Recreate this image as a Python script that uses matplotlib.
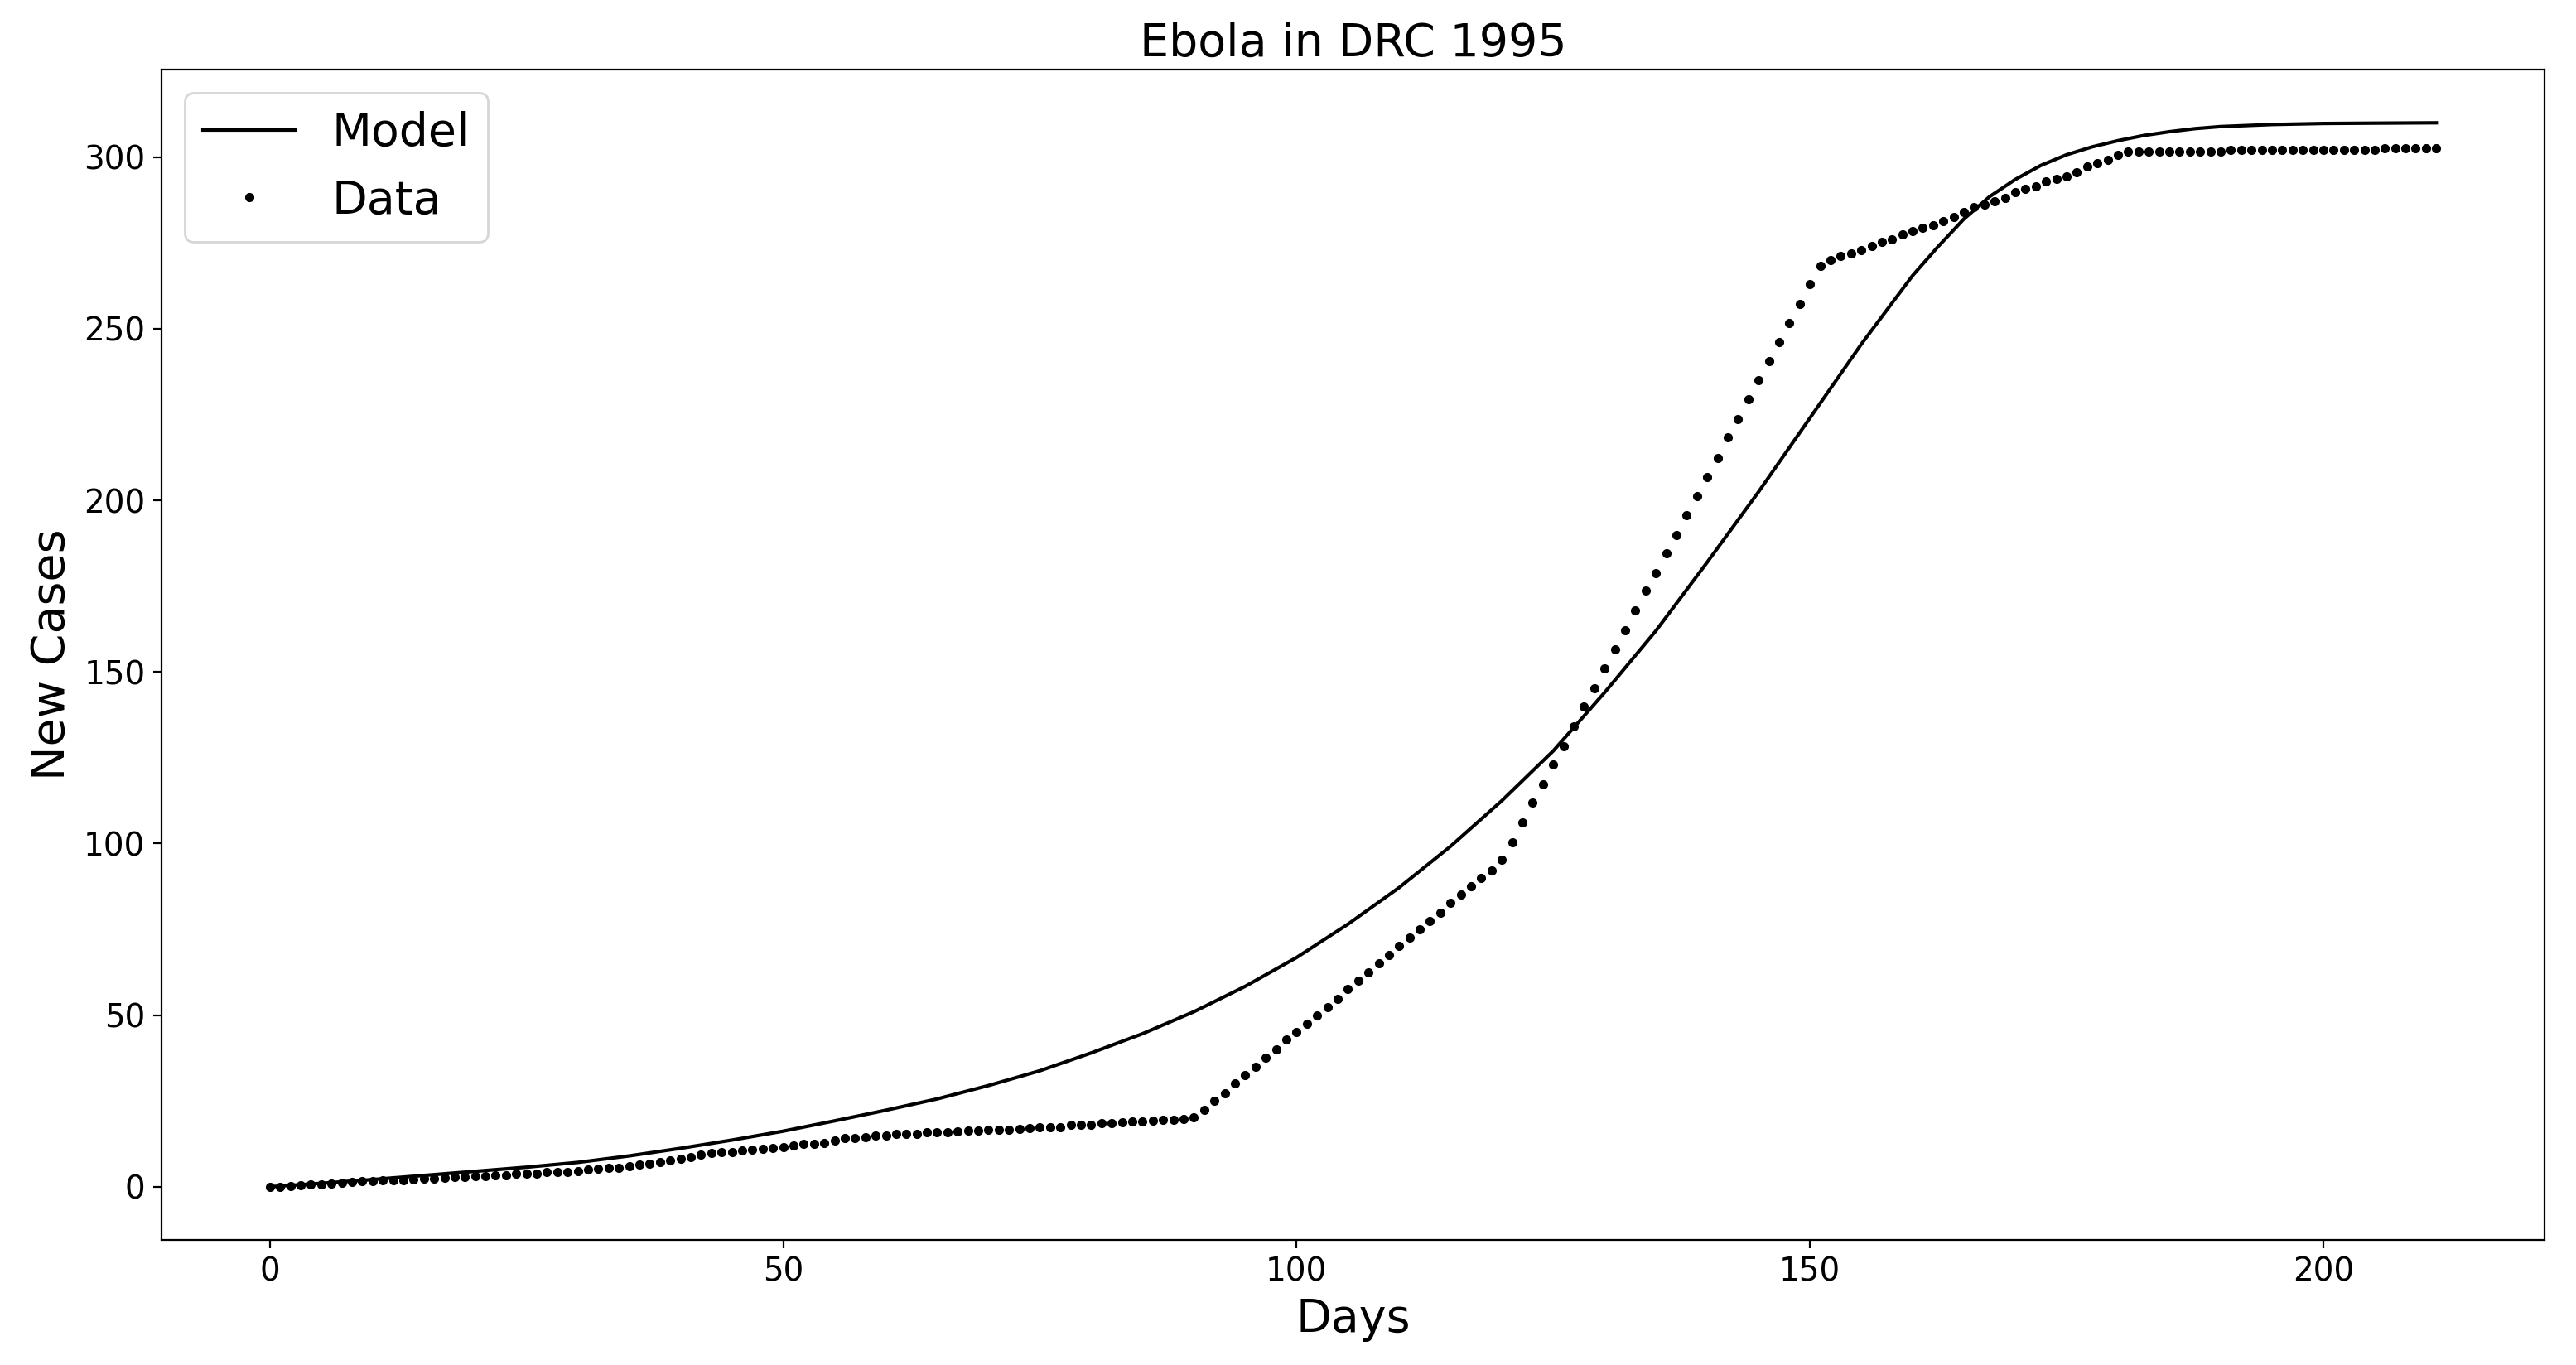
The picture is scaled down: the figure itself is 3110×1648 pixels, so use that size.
import numpy as np
from matplotlib import pyplot as plt

# cumulative cases, one per day (day 0 .. 211)
data_cases = [
    0.0, 0.0, 0.2, 0.5, 0.8, 0.8, 1.0, 1.2, 1.4, 1.6,
    1.7, 1.8, 2.0, 2.0, 2.1, 2.4, 2.4, 2.5, 2.8, 2.9,
    3.2, 3.2, 3.4, 3.4, 3.7, 3.8, 3.9, 4.2, 4.2, 4.3,
    4.5, 5.0, 5.2, 5.4, 5.6, 6.0, 6.4, 6.8, 7.2, 7.6,
    8.1, 8.7, 9.3, 9.8, 10.2, 10.2, 10.6, 10.8, 11.0, 11.3,
    11.6, 12.0, 12.4, 12.4, 12.8, 13.4, 14.1, 14.1, 14.4, 14.9,
    15.0, 15.4, 15.3, 15.5, 15.8, 15.8, 16.0, 16.2, 16.3, 16.4,
    16.7, 16.6, 16.6, 16.9, 17.1, 17.3, 17.4, 17.4, 18.1, 18.1,
    18.1, 18.5, 18.5, 18.7, 19.1, 19.1, 19.3, 19.5, 19.4, 19.7,
    20.2, 22.4, 25.0, 27.3, 30.2, 32.6, 35.0, 37.6, 40.0, 42.8,
    45.2, 47.6, 49.9, 52.3, 54.8, 57.7, 60.1, 62.5, 65.0, 67.5,
    70.2, 72.7, 75.1, 77.4, 79.8, 82.7, 85.2, 87.6, 89.9, 92.2,
    95.2, 100.4, 106.2, 112.0, 117.3, 123.0, 128.4, 134.1, 139.9, 145.2,
    151.0, 156.7, 162.1, 167.9, 173.6, 178.8, 184.6, 190.0, 195.7, 201.3,
    206.7, 212.4, 218.4, 223.6, 229.4, 235.1, 240.5, 246.2, 251.6, 257.3,
    263.1, 268.4, 269.9, 271.2, 272.0, 272.9, 274.1, 275.2, 276.1, 277.5,
    278.4, 279.3, 280.2, 281.3, 282.5, 283.9, 285.4, 286.2, 287.2, 288.2,
    289.7, 290.7, 291.5, 293.0, 293.7, 294.5, 295.7, 297.3, 298.3, 299.2,
    300.7, 301.7, 301.5, 301.5, 301.5, 301.6, 301.5, 301.5, 301.6, 301.5,
    301.5, 302.1, 302.1, 302.1, 302.1, 302.1, 302.1, 302.1, 302.1, 302.1,
    302.1, 302.1, 302.1, 302.1, 302.1, 302.1, 302.5, 302.5, 302.5, 302.5,
    302.5, 302.5,
]
data_days = list(range(len(data_cases)))

# model curve
model_days = [0, 5, 10, 15, 20, 25, 30, 35, 40, 45, 50, 55, 60, 65, 70, 75,
              80, 85, 90, 95, 100, 105, 110, 115, 120, 125, 130, 135, 140,
              145, 150, 155, 160, 162.5, 165, 167.5, 170, 172.5, 175, 177.5,
              180, 182.5, 185, 187.5, 190, 195, 200, 205, 211]
model_cases = [0.0, 1.0, 2.1, 3.3, 4.5, 5.7, 7.1, 9.0, 11.2, 13.6, 16.2, 19.2,
               22.3, 25.6, 29.5, 33.8, 39.0, 44.6, 51.0, 58.4, 66.8, 76.5,
               87.2, 99.2, 112.5, 127.0, 144.0, 162.0, 182.0, 202.5, 224.0,
               245.5, 265.5, 274.0, 282.0, 288.5, 293.5, 297.6, 300.7, 303.0,
               304.8, 306.3, 307.4, 308.3, 308.9, 309.5, 309.8, 309.9, 310.0]

fig = plt.figure(figsize=(15.55, 8.24), dpi=200)
ax = fig.add_axes([0.0627, 0.0916, 0.9251, 0.8574])

ax.plot(model_days, model_cases, "k-", linewidth=1.5, label="Model")
ax.plot(data_days, data_cases, "k.", label="Data")

ax.set_title("Ebola in DRC 1995", fontsize=20)
ax.set_xlabel("Days", fontsize=20)
ax.set_ylabel("New Cases", fontsize=20)
ax.tick_params(labelsize=14)
ax.legend(loc="upper left", fontsize=20)

fig.savefig("out.png", dpi=200)
